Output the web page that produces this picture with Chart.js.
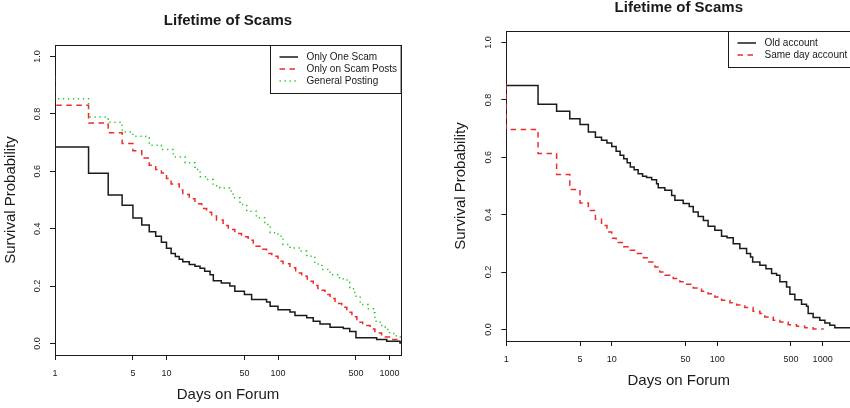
<!DOCTYPE html>
<html>
<head>
<meta charset="utf-8">
<script src="https://cdn.jsdelivr.net/npm/chart.js@4.4.0/dist/chart.umd.min.js"></script>
<style>
  html, body { margin: 0; padding: 0; background: #fff; overflow: hidden; }
  body { width: 850px; height: 408px; position: relative; }
  #left { position: absolute; left: 0; top: 0; }
  #right { position: absolute; left: 425px; top: 0; }
</style>
</head>
<body>
<canvas id="left" width="425" height="408"></canvas>
<canvas id="right" width="440" height="408"></canvas>
<script>
const xTicks = [1, 5, 10, 50, 100, 500, 1000];
const yTicks = [0, 0.2, 0.4, 0.6, 0.8, 1.0];

// left panel: [day, survival]
const oneScam = [[1, 0.93], [1, 0.685], [2, 0.593], [3, 0.517], [4, 0.482], [5, 0.437], [6, 0.413], [7, 0.389],
  [8, 0.374], [9, 0.353], [10, 0.332], [11, 0.314], [12, 0.303], [13, 0.294], [14, 0.285], [16, 0.275],
  [18, 0.269], [20, 0.262], [22, 0.252], [24.6, 0.240], [26.3, 0.219], [31, 0.211], [37, 0.200], [41, 0.182],
  [50, 0.171], [58, 0.153], [79, 0.145], [85, 0.130], [100, 0.118], [128, 0.110], [142, 0.098], [181, 0.090],
  [207, 0.078], [238, 0.068], [293, 0.057], [385, 0.052], [440, 0.042], [500, 0.020], [767, 0.014],
  [944, 0.008], [1242, 0.002], [1268, 0.002]];
const scamPostsOnly = [[1, 0.93], [1, 0.83], [2, 0.768], [3, 0.734], [4, 0.697], [5, 0.672], [6, 0.646], [7, 0.621],
  [8, 0.606], [9, 0.594], [10, 0.575], [11, 0.556], [13, 0.535], [14, 0.519], [16, 0.504], [18, 0.487],
  [20.7, 0.470], [22.9, 0.457], [25.4, 0.444], [28.1, 0.430], [32.2, 0.411], [35.8, 0.397], [41, 0.383],
  [47, 0.372], [54, 0.360], [60, 0.339], [69, 0.328], [79, 0.314], [88, 0.304], [100, 0.287], [111, 0.278],
  [128, 0.264], [144, 0.246], [163, 0.234], [183, 0.217], [207, 0.202], [228, 0.186], [264, 0.171],
  [293, 0.157], [325, 0.139], [373, 0.126], [414, 0.109], [460, 0.093], [510, 0.074], [575, 0.063],
  [670, 0.051], [740, 0.037], [850, 0.023], [1000, 0.014], [1200, 0.005], [1268, 0.005]];
const generalPosting = [[1, 0.93], [1, 0.853], [2, 0.789], [3, 0.771], [4, 0.737], [5, 0.722], [6.5, 0.717],
  [7, 0.691], [9, 0.676], [11.5, 0.650], [14.7, 0.630], [18, 0.606], [20, 0.581], [22.9, 0.571], [26.2, 0.550],
  [30.1, 0.542], [37, 0.531], [39.6, 0.508], [45.6, 0.484], [52.4, 0.461], [64, 0.438], [76, 0.415],
  [85, 0.386], [100, 0.374], [111, 0.345], [128, 0.333], [158, 0.322], [181, 0.304], [214, 0.277],
  [247, 0.258], [293, 0.240], [347, 0.229], [385, 0.221], [440, 0.191], [488, 0.165], [546, 0.136],
  [646, 0.121], [717, 0.107], [740, 0.078], [825, 0.063], [915, 0.049], [1000, 0.035], [1150, 0.023],
  [1268, 0.018]];

// right panel
const oldAccount = [[1, 0.850], [2, 0.785], [3, 0.760], [4, 0.734], [5, 0.714], [6, 0.688], [7, 0.670], [8, 0.659],
  [9, 0.650], [10, 0.638], [11, 0.621], [12, 0.607], [13, 0.595], [14, 0.581], [15, 0.566], [16.3, 0.557],
  [17.8, 0.543], [19.6, 0.534], [21.4, 0.530], [23.9, 0.522], [26.6, 0.508], [27.6, 0.494], [31.9, 0.485],
  [37, 0.467], [39.7, 0.450], [47.6, 0.439], [54.3, 0.429], [59.3, 0.409], [66, 0.394], [74, 0.380],
  [82, 0.360], [95, 0.346], [110, 0.325], [124, 0.320], [142, 0.299], [164, 0.282], [190, 0.265],
  [207, 0.253], [217, 0.235], [254, 0.224], [290, 0.212], [328, 0.195], [366, 0.189], [393, 0.166],
  [455, 0.148], [489, 0.123], [545, 0.104], [631, 0.088], [703, 0.081], [729, 0.056], [813, 0.042],
  [940, 0.032], [1050, 0.023], [1170, 0.015], [1305, 0.006], [1900, 0.006]];
const sameDayAccount = [[1, 0.856], [1, 0.697], [2, 0.613], [3, 0.540], [4, 0.488], [5, 0.441], [6, 0.415],
  [7, 0.384], [8, 0.362], [9, 0.340], [10, 0.318], [11, 0.303], [13, 0.288], [15, 0.276], [17, 0.265],
  [20, 0.250], [22.5, 0.235], [25.7, 0.218], [28.6, 0.200], [31.9, 0.189], [38.3, 0.178], [44.3, 0.166],
  [51.3, 0.158], [59.3, 0.145], [71, 0.133], [82, 0.125], [95, 0.113], [110, 0.102], [132, 0.093],
  [153, 0.085], [183, 0.077], [219, 0.064], [254, 0.056], [283, 0.044], [340, 0.032], [393, 0.026],
  [471, 0.017], [566, 0.011], [678, 0.006], [813, 0.002], [1011, 0.0]];

const FONT = '"Liberation Sans", Arial, Helvetica, sans-serif';
const INK = '#1a1a1a';
const RED = '#ee2a2a';
const GREEN = '#1fc81f';

// R style box around the plot (under the curves) + legend in the top right corner
const rFrame = {
  id: 'rFrame',
  beforeDatasetsDraw(chart) {
    const {ctx, chartArea: a} = chart;
    ctx.save();
    ctx.strokeStyle = INK;
    ctx.lineWidth = 1;
    ctx.strokeRect(Math.round(a.left) + 0.5, Math.round(a.top) + 0.5,
      Math.round(a.right - a.left), Math.round(a.bottom - a.top));
    ctx.restore();
  },
  afterDatasetsDraw(chart) {
    const {ctx, chartArea: a} = chart;
    ctx.save();
    ctx.strokeStyle = INK;
    ctx.lineWidth = 1;
    const items = chart.data.datasets;
    ctx.font = '10px ' + FONT;
    const textW = Math.max(...items.map(d => ctx.measureText(d.label).width));
    const w = 36.4 + textW + 3.6;
    const h = 12 * (items.length + 1);
    const x0 = Math.round(a.right - w) + 0.5;
    const y0 = Math.round(a.top) + 0.5;
    ctx.fillStyle = '#fff';
    ctx.fillRect(x0, y0, w, h);
    ctx.strokeRect(x0, y0, w, h);
    items.forEach((d, i) => {
      const y = y0 + 12 * (i + 1) - 0.5;
      ctx.strokeStyle = d.borderColor;
      ctx.lineWidth = d.borderWidth;
      ctx.setLineDash(d.borderDash || []);
      ctx.beginPath();
      ctx.moveTo(x0 + 9, y);
      ctx.lineTo(x0 + 27.5, y);
      ctx.stroke();
      ctx.setLineDash([]);
      ctx.fillStyle = INK;
      ctx.textBaseline = 'middle';
      ctx.textAlign = 'left';
      ctx.fillText(d.label, x0 + 36, y);
    });
    ctx.restore();
  }
};

function makeChart(id, cfg) {
  const tickGrid = { display: true, drawOnChartArea: false, drawTicks: true, tickLength: 5, color: INK, lineWidth: 1 };
  return new Chart(document.getElementById(id), {
    type: 'line',
    data: {
      datasets: cfg.series.map(s => ({
        label: s.label,
        data: s.points.map(([x, y]) => ({ x, y })),
        borderColor: s.color,
        borderWidth: 1.5,
        borderDash: s.dash,
        stepped: true,
        pointRadius: 0,
        fill: false,
        tension: 0
      }))
    },
    options: {
      responsive: false,
      animation: false,
      events: [],
      layout: { padding: cfg.padding },
      plugins: {
        legend: { display: false },
        tooltip: { enabled: false },
        title: {
          display: true,
          text: 'Lifetime of Scams',
          fullSize: false,
          color: INK,
          font: { family: FONT, size: 15, weight: 'bold', lineHeight: 1 },
          padding: cfg.titlePadding
        }
      },
      scales: {
        x: {
          type: 'logarithmic',
          min: 1,
          max: cfg.xMax,
          afterBuildTicks: s => { s.ticks = xTicks.map(v => ({ value: v })); },
          afterFit: s => { s.height = 53; },
          grid: tickGrid,
          border: { display: false },
          ticks: {
            autoSkip: false, maxRotation: 0, padding: 8, color: INK,
            font: { family: FONT, size: 9 },
            callback: v => String(v)
          },
          title: {
            display: true, text: 'Days on Forum', color: INK,
            font: { family: FONT, size: 15, lineHeight: 1 },
            padding: { top: 0, bottom: 6 }
          }
        },
        y: {
          min: -0.04,
          max: 1.04,
          afterBuildTicks: s => { s.ticks = yTicks.map(v => ({ value: v })); },
          afterFit: s => { s.width = cfg.yWidth; },
          grid: tickGrid,
          border: { display: false },
          ticks: {
            minRotation: 90, maxRotation: 90, crossAlign: 'center', padding: 6.2, color: INK,
            font: { family: FONT, size: 9 },
            callback: v => v.toFixed(1)
          },
          title: {
            display: true, text: 'Survival Probability', color: INK,
            font: { family: FONT, size: 15, lineHeight: 1 },
            padding: { top: 3.6, bottom: 0 }
          }
        }
      }
    },
    plugins: [rFrame]
  });
}

makeChart('left', {
  xMax: 1268,
  yWidth: 55,
  padding: { top: 0, left: 0, right: 24, bottom: 0 },
  titlePadding: { top: 13.5, bottom: 16.5 },
  series: [
    { label: 'Only One Scam', points: oneScam, color: INK, dash: [] },
    { label: 'Only on Scam Posts', points: scamPostsOnly, color: RED, dash: [5.5, 4.5] },
    { label: 'General Posting', points: generalPosting, color: GREEN, dash: [1.3, 3.7] }
  ]
});

makeChart('right', {
  xMax: 1870,
  yWidth: 56.3,
  padding: { top: 0, left: 25, right: 13.7, bottom: 14 },
  titlePadding: { top: 0, bottom: 16 },
  series: [
    { label: 'Old account', points: oldAccount, color: INK, dash: [] },
    { label: 'Same day account', points: sameDayAccount, color: RED, dash: [5.5, 4.5] }
  ]
});
</script>
</body>
</html>
